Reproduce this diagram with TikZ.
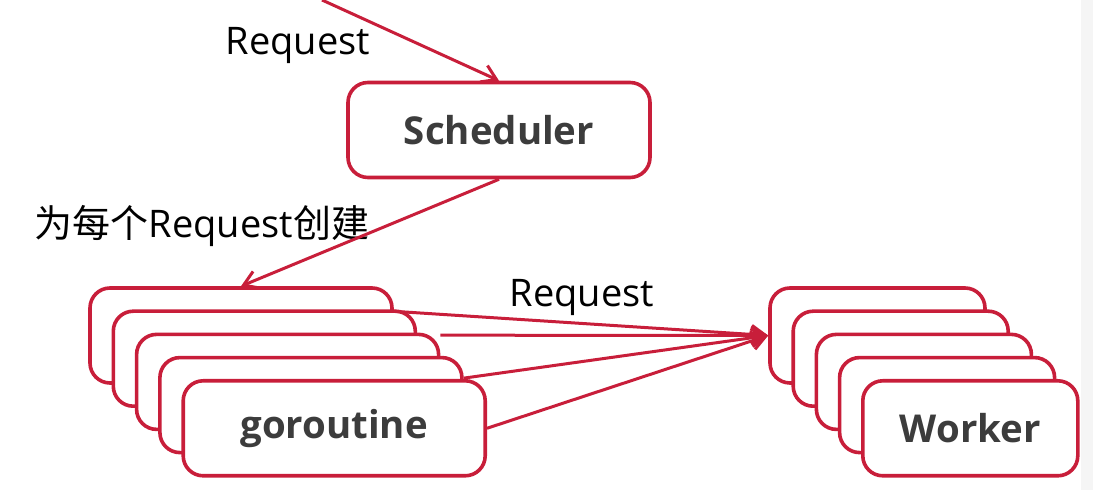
\documentclass[tikz,border=0pt]{standalone}
\usepackage{fontspec}
\setmainfont{Open Sans}
\newfontfamily\cjk{Noto Sans CJK SC}
\usepackage{tikz}
\usetikzlibrary{arrows.meta,positioning,backgrounds}

\definecolor{boxred}{RGB}{200,30,58}
\definecolor{textgray}{RGB}{60,60,60}

\tikzset{
  box/.style={draw=boxred, line width=1.8pt, rounded corners=10pt, fill=white,
    minimum width=151pt, minimum height=47.5pt, inner sep=0pt,
    text=textgray, font=\bfseries\fontsize{19.2}{22}\selectfont},
  wbox/.style={box, minimum width=107.5pt},
  lbl/.style={inner sep=0pt, font=\fontsize{19}{22}\selectfont},
  req/.style={draw=boxred, line width=1.5pt, -{Straight Barb[length=7pt,width=9pt]}}
}

\begin{document}
\begin{tikzpicture}[x=0.5pt, y=-0.5pt]
\useasboundingbox (0,0) rectangle (1093,490);
\fill[gray!8] (1081,0) rectangle (1093,490);

% nodes
\node[box] (sched) at (499,130) {Scheduler};%
\foreach \i in {1,...,5}{
  \node[box] (g\i) at ({241+23.3*(\i-1)},{335.5+23.2*(\i-1)}) {};%
}
\node[font=\bfseries\fontsize{19.2}{22}\selectfont, text=textgray] at (g5) {goroutine};%
\foreach \i in {1,...,5}{
  \node[wbox] (w\i) at ({877.5+23.2*(\i-1)},{335.5+23.2*(\i-1)}) {};%
}
\node[font=\bfseries\fontsize{19.2}{22}\selectfont, text=textgray] at (w5) {Worker};%

\node[lbl] (l1) at (298,46) {Request};%
\node[lbl] (l2) at (202,226) {{\cjk 为每个}Request{\cjk 创建}};%
\node[lbl] (l3) at (582,298) {Request};%

% connectors
\coordinate (src) at (322,0);
\draw[req] (src) -- (sched.north);
\draw[req] (sched.south) -- (g1.north);
\draw[req] (g1.9) -- (w1.west);
\draw[req] (g3.17) -- (w1.west);
\draw[req] (g4.10) -- (w1.west);
\draw[req] (g5.east) -- (w1.west);
\end{tikzpicture}
\end{document}
